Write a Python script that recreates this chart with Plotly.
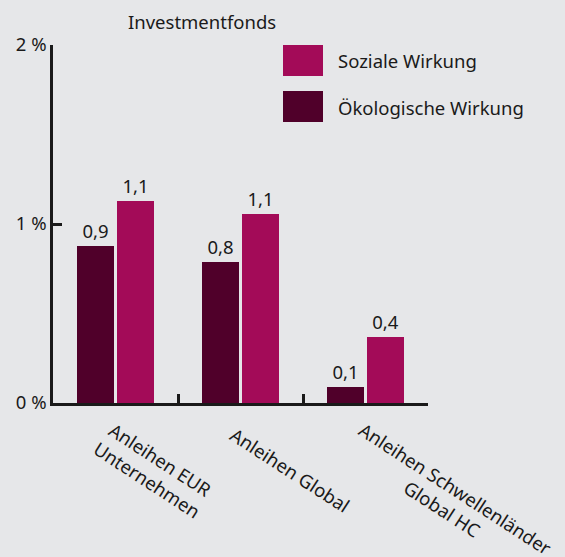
import plotly.graph_objects as go

categories = ["Anleihen EUR<br>Unternehmen", "Anleihen Global", "Anleihen Schwellenländer<br>Global HC"]
series_names = ["Ökologische Wirkung", "Soziale Wirkung"]
oekologisch = [0.877, 0.788, 0.089]
sozial = [1.128, 1.056, 0.369]
y_ticks = [0, 1, 2]
y_tick_labels = ["0 %", "1 %", "2 %"]
title_text = "Investmentfonds"

C_DARK = "#50002a"
C_MAG = "#a30b58"
BG = "#e6e7e9"
INK = "#1a1a1a"
FONT = "Noto Sans"
FS = 18.5

# plot area in pixels
W, H = 565, 557
L, R, T, B = 53, 137, 45, 154
PW, PH = W - L - R, H - T - B

def px(x):
    return (x - L) / PW

def py(y):
    return (H - B - y) / PH

xs = list(range(len(categories)))

fig = go.Figure()
for name, vals, col in [(series_names[0], oekologisch, C_DARK), (series_names[1], sozial, C_MAG)]:
    fig.add_trace(go.Bar(
        x=xs, y=vals, name=name, marker=dict(color=col, line=dict(width=0)),
        texttemplate="%{y:.1f}", textposition="outside", cliponaxis=False,
        textfont=dict(family=FONT, size=FS, color=INK),
        showlegend=False, hoverinfo="skip",
    ))

fig.update_layout(
    width=W, height=H,
    margin=dict(l=L, r=R, t=T, b=B, autoexpand=False),
    paper_bgcolor=BG, plot_bgcolor=BG,
    barmode="group", bargap=0.36, bargroupgap=0.075,
    separators=",.",
    font=dict(family=FONT, size=FS, color=INK),
    xaxis=dict(range=[-0.5, len(categories) - 0.5], showgrid=False, zeroline=False,
               showline=True, linecolor=INK, linewidth=2.5,
               tickmode="array", tickvals=[i + 0.5 for i in range(-1, len(categories))],
               ticks="inside", ticklen=9, tickwidth=2.5, tickcolor=INK,
               showticklabels=False),
    yaxis=dict(range=[0, 2], showgrid=False, zeroline=False,
               showline=True, linecolor=INK, linewidth=2.5,
               tickmode="array", tickvals=y_ticks, ticktext=y_tick_labels,
               ticks="inside", ticklen=9, tickwidth=2.5, tickcolor=INK,
               tickfont=dict(family=FONT, size=FS, color=INK)),
)

# title
fig.add_annotation(text=title_text, xref="paper", yref="paper", x=px(126), y=py(21),
                   xanchor="left", yanchor="middle", showarrow=False,
                   font=dict(family=FONT, size=FS, color=INK))

# legend (custom, large swatches)
legend_rows = [(series_names[1], C_MAG, 45), (series_names[0], C_DARK, 91)]
for name, col, top in legend_rows:
    fig.add_shape(type="rect", xref="paper", yref="paper",
                  x0=px(283), x1=px(323), y0=py(top), y1=py(top + 31),
                  fillcolor=col, line=dict(width=0))
    fig.add_annotation(text=name, xref="paper", yref="paper", x=px(336), y=py(top + 16),
                       xanchor="left", yanchor="middle", showarrow=False,
                       font=dict(family=FONT, size=FS, color=INK))

# rotated category labels
label_centers = [(154, 469), (290, 469), (449, 498)]
for cat, (cx, cy) in zip(categories, label_centers):
    fig.add_annotation(text=cat, xref="paper", yref="paper", x=px(cx), y=py(cy),
                       xanchor="center", yanchor="middle", showarrow=False,
                       textangle=33, align="center",
                       font=dict(family=FONT, size=FS, color=INK))

fig.write_html("out.html", config={"displayModeBar": False},
               post_script="document.body.style.margin='0';document.body.style.background='%s';" % BG)
